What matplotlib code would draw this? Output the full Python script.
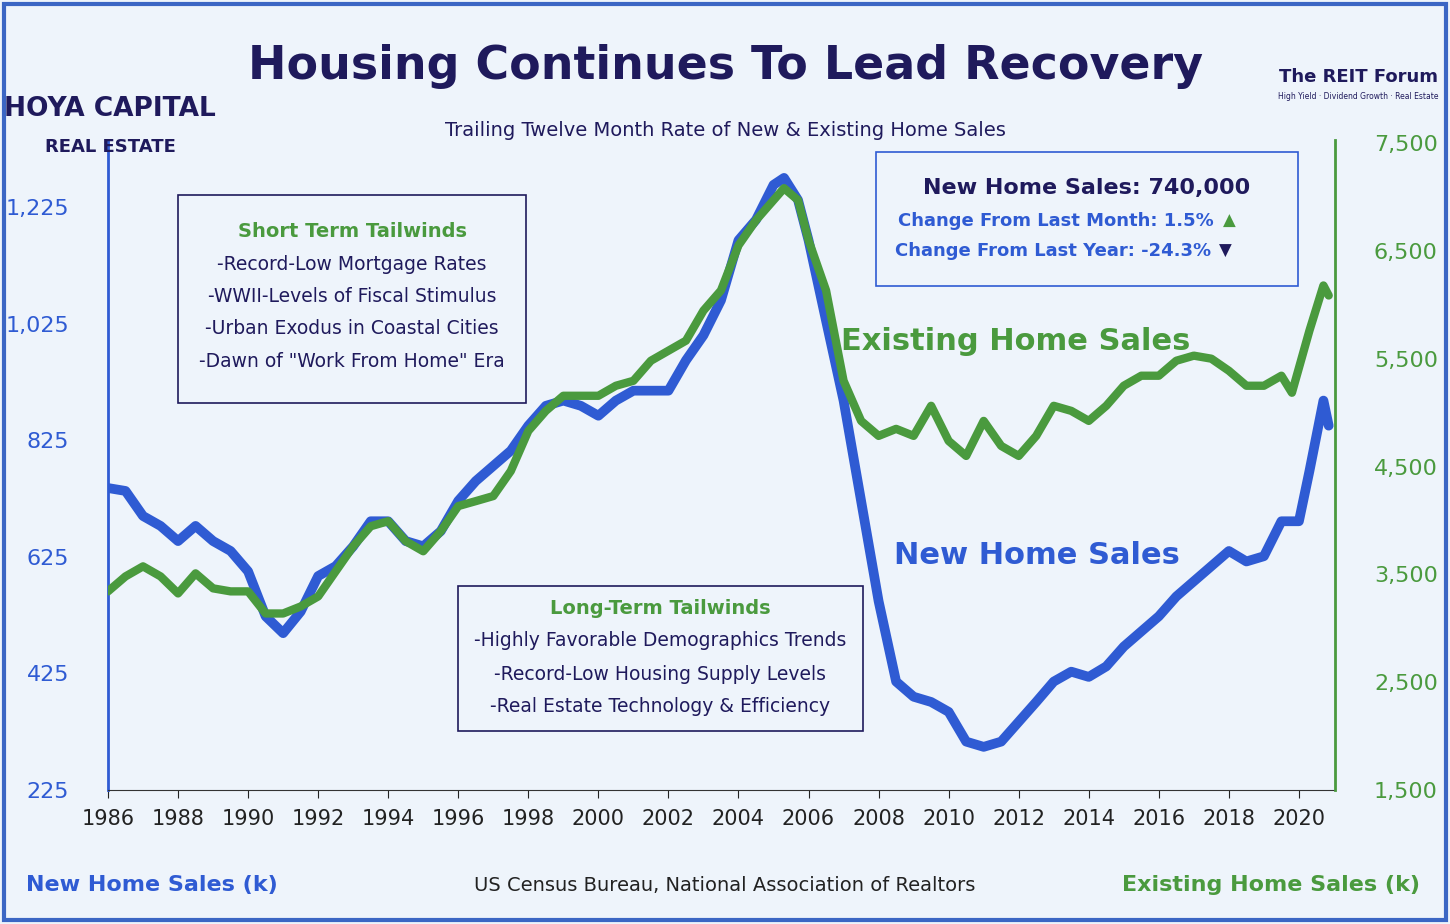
import matplotlib.pyplot as plt
from matplotlib.patches import Rectangle

years_new = [1986.0, 1986.5, 1987.0, 1987.5, 1988.0, 1988.5, 1989.0, 1989.5, 1990.0, 1990.5,
             1991.0, 1991.5, 1992.0, 1992.5, 1993.0, 1993.5, 1994.0, 1994.5, 1995.0, 1995.5,
             1996.0, 1996.5, 1997.0, 1997.5, 1998.0, 1998.5, 1999.0, 1999.5, 2000.0, 2000.5,
             2001.0, 2001.5, 2002.0, 2002.5, 2003.0, 2003.5, 2004.0, 2004.5, 2005.0, 2005.3,
             2005.7, 2006.0, 2006.5, 2007.0, 2007.5, 2008.0, 2008.5, 2009.0, 2009.5, 2010.0,
             2010.5, 2011.0, 2011.5, 2012.0, 2012.5, 2013.0, 2013.5, 2014.0, 2014.5, 2015.0,
             2015.5, 2016.0, 2016.5, 2017.0, 2017.5, 2018.0, 2018.5, 2019.0, 2019.5, 2020.0,
             2020.3, 2020.7, 2020.85]
new_sales = [743, 738, 695, 678, 652, 678, 652, 635, 600, 523,
             494, 531, 592, 609, 643, 686, 686, 652, 643, 669,
             721, 755, 781, 807, 850, 884, 893, 884, 867, 893,
             910, 910, 910, 962, 1005, 1065, 1168, 1203, 1263, 1275,
             1237, 1168, 1030, 893, 721, 549, 411, 385, 376, 359,
             308, 299, 308, 342, 376, 411, 428, 419, 437, 471,
             497, 523, 557, 583, 609, 635, 617, 626, 686, 686,
             772, 893, 850]

years_exist = [1986.0, 1986.5, 1987.0, 1987.5, 1988.0, 1988.5, 1989.0, 1989.5, 1990.0, 1990.5,
               1991.0, 1991.5, 1992.0, 1992.5, 1993.0, 1993.5, 1994.0, 1994.5, 1995.0, 1995.5,
               1996.0, 1996.5, 1997.0, 1997.5, 1998.0, 1998.5, 1999.0, 1999.5, 2000.0, 2000.5,
               2001.0, 2001.5, 2002.0, 2002.5, 2003.0, 2003.5, 2004.0, 2004.5, 2005.0, 2005.3,
               2005.7, 2006.0, 2006.5, 2007.0, 2007.5, 2008.0, 2008.5, 2009.0, 2009.5, 2010.0,
               2010.5, 2011.0, 2011.5, 2012.0, 2012.5, 2013.0, 2013.5, 2014.0, 2014.5, 2015.0,
               2015.5, 2016.0, 2016.5, 2017.0, 2017.5, 2018.0, 2018.5, 2019.0, 2019.5, 2019.8,
               2020.3, 2020.7, 2020.85]
existing_sales = [3342, 3481, 3574, 3481, 3323, 3509, 3370, 3342, 3342, 3137,
                  3137, 3202, 3295, 3528, 3760, 3946, 3993, 3807, 3714, 3900,
                  4133, 4179, 4226, 4458, 4830, 5016, 5156, 5156, 5156, 5249,
                  5295, 5481, 5574, 5667, 5946, 6133, 6551, 6784, 6970, 7081,
                  6970, 6598, 6133, 5295, 4923, 4784, 4849, 4784, 5063, 4737,
                  4598, 4923, 4691, 4598, 4784, 5063, 5016, 4923, 5063, 5249,
                  5342, 5342, 5481, 5528, 5500, 5388, 5249, 5249, 5342, 5184,
                  5760, 6179, 6086]

left_ticks = [225, 425, 625, 825, 1025, 1225]
right_ticks = [1500, 2500, 3500, 4500, 5500, 6500, 7500]
x_ticks = list(range(1986, 2021, 2))

BLUE = '#2f5bd3'
GREEN = '#4a9a3e'
NAVY = '#1f1a5c'
BG = '#eef4fb'

plt.rcParams['font.family'] = ['DejaVu Sans']
fig = plt.figure(figsize=(14.5, 9.24), dpi=100, facecolor=BG)
fig.patches.append(Rectangle((0.003, 0.004), 0.994, 0.992, transform=fig.transFigure,
                             fill=False, edgecolor='#3b66c4', linewidth=3))
ax = fig.add_axes([108 / 1450, 1 - 790 / 924, 1227 / 1450, 650 / 924])
ax.set_facecolor(BG)
ax2 = ax.twinx()

ax.plot(years_new, new_sales, color=BLUE, lw=7, solid_capstyle='round', solid_joinstyle='round', zorder=2)
ax2.plot(years_exist, existing_sales, color=GREEN, lw=6, solid_capstyle='round', solid_joinstyle='round', zorder=3)

ax.set_xlim(1986, 2021.03)
ax.set_ylim(225, 1340)
ax2.set_ylim(1500, 7528)
ax.set_xticks(x_ticks)
ax.set_yticks(left_ticks)
ax.set_yticklabels([f'{v:,}' for v in left_ticks])
ax2.set_yticks(right_ticks)
ax2.set_yticklabels([f'{v:,}' for v in right_ticks])
ax.tick_params(axis='x', labelsize=15, colors='#222222', length=6, pad=8)
ax.tick_params(axis='y', labelsize=16, colors=BLUE, length=0, pad=28)
ax2.tick_params(axis='y', labelsize=16, colors=GREEN, length=0, pad=28)
ax.spines['top'].set_visible(False)
ax2.spines['top'].set_visible(False)
ax.spines['left'].set_color(BLUE)
ax.spines['left'].set_linewidth(2)
ax.spines['right'].set_visible(False)
ax2.spines['left'].set_visible(False)
ax2.spines['right'].set_color(GREEN)
ax2.spines['right'].set_linewidth(2)
ax.spines['bottom'].set_color('#333333')
ax2.spines['bottom'].set_visible(False)

fig.text(0.5, 0.915, 'Housing Continues To Lead Recovery', ha='center', fontsize=33,
         fontweight='bold', color=NAVY)
fig.text(0.5, 0.853, 'Trailing Twelve Month Rate of New & Existing Home Sales', ha='center',
         fontsize=14, color=NAVY)
fig.text(0.076, 0.875, 'HOYA CAPITAL', ha='center', fontsize=19, color=NAVY, fontweight='bold')
fig.text(0.076, 0.836, 'REAL ESTATE', ha='center', fontsize=13, color=NAVY, fontweight='bold')
fig.text(0.937, 0.911, 'The REIT Forum', ha='center', fontsize=13, color=NAVY, fontweight='bold')
fig.text(0.937, 0.893, 'High Yield · Dividend Growth · Real Estate', ha='center', fontsize=5.5, color=NAVY)
fig.text(0.018, 0.036, 'New Home Sales (k)', fontsize=16, color=BLUE, fontweight='bold')
fig.text(0.979, 0.036, 'Existing Home Sales (k)', ha='right', fontsize=16, color=GREEN, fontweight='bold')
fig.text(0.5, 0.036, 'US Census Bureau, National Association of Realtors', ha='center',
         fontsize=14, color='#222222')

# annotation boxes
fig.patches.append(Rectangle((178 / 1450, 1 - 403 / 924), 348 / 1450, 208 / 924,
                             transform=fig.transFigure, fill=False, edgecolor=NAVY, lw=1.2))
fig.text(352 / 1450, 1 - 232 / 924, 'Short Term Tailwinds', ha='center', va='center',
         fontsize=14, color=GREEN, fontweight='bold')
for i, t in enumerate(['-Record-Low Mortgage Rates', '-WWII-Levels of Fiscal Stimulus',
                       '-Urban Exodus in Coastal Cities', '-Dawn of "Work From Home" Era']):
    fig.text(352 / 1450, 1 - (264 + 32.5 * i) / 924, t, ha='center', va='center',
             fontsize=13.5, color=NAVY)

fig.patches.append(Rectangle((458 / 1450, 1 - 731 / 924), 405 / 1450, 145 / 924,
                             transform=fig.transFigure, fill=False, edgecolor=NAVY, lw=1.2))
fig.text(660 / 1450, 1 - 609 / 924, 'Long-Term Tailwinds', ha='center', va='center',
         fontsize=14, color=GREEN, fontweight='bold')
for i, t in enumerate(['-Highly Favorable Demographics Trends', '-Record-Low Housing Supply Levels',
                       '-Real Estate Technology & Efficiency']):
    fig.text(660 / 1450, 1 - (641 + 33 * i) / 924, t, ha='center', va='center',
             fontsize=13.5, color=NAVY)

fig.patches.append(Rectangle((876 / 1450, 1 - 286 / 924), 422 / 1450, 134 / 924,
                             transform=fig.transFigure, fill=False, edgecolor=BLUE, lw=1.2))
fig.text(1087 / 1450, 1 - 188 / 924, 'New Home Sales: 740,000', ha='center', va='center',
         fontsize=16, color=NAVY, fontweight='bold')
fig.text(1214 / 1450, 1 - 221 / 924, 'Change From Last Month: 1.5%', ha='right', va='center',
         fontsize=13, color=BLUE, fontweight='bold')
fig.text(1229 / 1450, 1 - 221 / 924, '▲', ha='center', va='center', fontsize=12, color=GREEN)
fig.text(1211 / 1450, 1 - 251 / 924, 'Change From Last Year: -24.3%', ha='right', va='center',
         fontsize=13, color=BLUE, fontweight='bold')
fig.text(1225 / 1450, 1 - 251 / 924, '▼', ha='center', va='center', fontsize=12, color=NAVY)

fig.text(1016 / 1450, 1 - 342 / 924, 'Existing Home Sales', ha='center', va='center',
         fontsize=22, color=GREEN, fontweight='bold')
fig.text(1037 / 1450, 1 - 556 / 924, 'New Home Sales', ha='center', va='center',
         fontsize=22, color=BLUE, fontweight='bold')

fig.savefig('out.png', dpi=100, facecolor=BG)
